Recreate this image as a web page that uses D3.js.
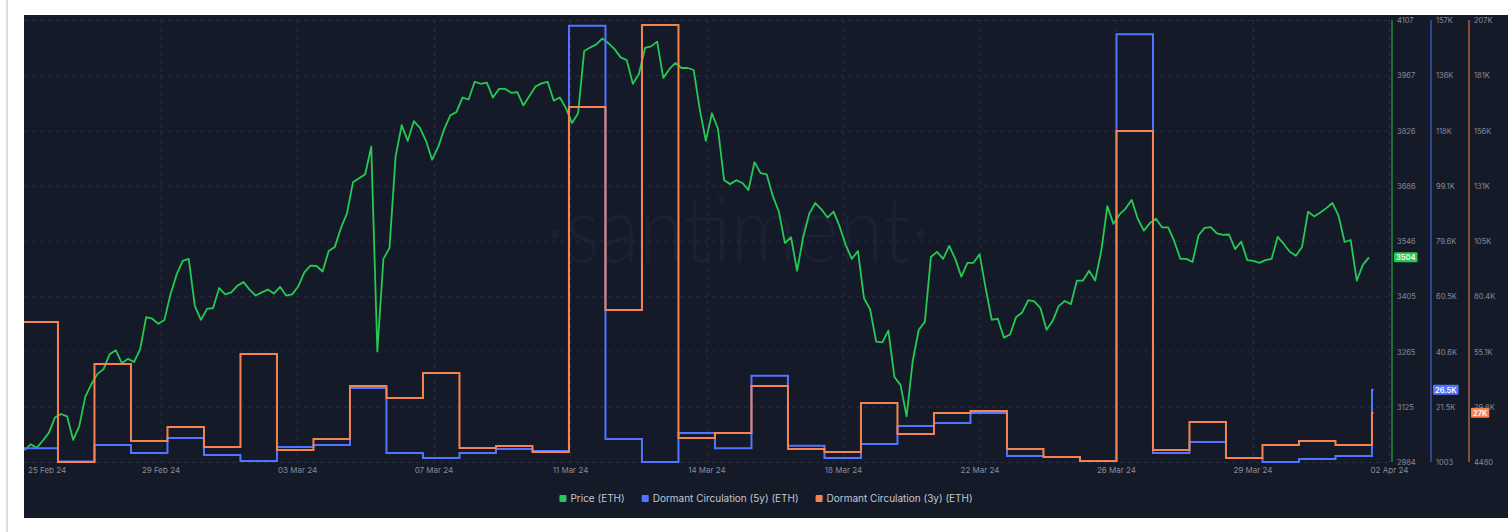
<html>
<head>
  <script src="https://d3js.org/d3.v7.min.js"></script>
  <style>
    body { margin: 0; padding: 0; background: #fff; font-family: "Inter", "Open Sans", sans-serif; }
    svg { display: block; }
  </style>
</head>
<body>
<div id="chart"></div>
<script>
// price, 4-hourly from 25 Feb 07:00 UTC
const priceStart = Date.UTC(2024, 1, 25, 7);
const priceStepHours = 4;
const priceValues = [
  3014, 3029, 3020, 3038, 3058, 3097, 3106, 3100, 3040, 3075,
  3150, 3182, 3208, 3220, 3258, 3268, 3235, 3246, 3238, 3270,
  3352, 3348, 3335, 3345, 3410, 3460, 3495, 3500, 3380, 3345,
  3373, 3375, 3426, 3410, 3415, 3432, 3441, 3422, 3407, 3415,
  3422, 3412, 3429, 3407, 3410, 3430, 3466, 3483, 3482, 3468,
  3520, 3530, 3578, 3615, 3695, 3705, 3715, 3785, 3265, 3500,
  3528, 3760, 3840, 3800, 3850, 3833, 3800, 3752, 3784, 3830,
  3865, 3873, 3910, 3905, 3950, 3945, 3948, 3910, 3932, 3932,
  3922, 3924, 3890, 3914, 3938, 3946, 3950, 3902, 3910, 3883,
  3845, 3870, 4028, 4037, 4045, 4060, 4048, 4033, 4012, 4005,
  3945, 3970, 4036, 4040, 4052, 3960, 3982, 3998, 3985, 3985,
  3980, 3880, 3800, 3870, 3830, 3700, 3690, 3700, 3693, 3675,
  3746, 3718, 3715, 3660, 3620, 3540, 3555, 3470, 3555, 3615,
  3642, 3626, 3605, 3620, 3582, 3535, 3500, 3520, 3400, 3372,
  3290, 3288, 3318, 3200, 3180, 3100, 3240, 3320, 3340, 3505,
  3518, 3500, 3533, 3500, 3455, 3490, 3490, 3512, 3425, 3345,
  3348, 3300, 3308, 3352, 3364, 3395, 3392, 3375, 3320, 3342,
  3380, 3393, 3385, 3445, 3445, 3470, 3445, 3520, 3634, 3589,
  3613, 3628, 3650, 3602, 3572, 3591, 3602, 3580, 3580, 3545,
  3500, 3500, 3492, 3560, 3579, 3581, 3565, 3561, 3562, 3525,
  3544, 3497, 3495, 3490, 3497, 3500, 3556, 3538, 3518, 3508,
  3530, 3620, 3608, 3618, 3629, 3642, 3610, 3543, 3548, 3445,
  3485, 3504
];

// dormant circulation, daily buckets starting 25 Feb 05:00 UTC
const dormantStart = Date.UTC(2024, 1, 25, 5);
const dormantEnd = new Date("2024-04-02T06:00Z");
const dormant5y = [
  5900, 1200, 7000, 4200, 9500, 3500, 1400, 6300, 7000, 27100,
  4200, 2400, 4200, 5600, 4900, 155000, 9100, 1003, 11200, 5900,
  31400, 6700, 2400, 7400, 13700, 14800, 18300, 3100, 2800, 1400,
  152000, 4200, 8100, 2400, 1003, 2100, 3100, 26500
];
const dormant3y = [
  68600, 4480, 49400, 14100, 20500, 11400, 54000, 10000, 15000, 39300,
  33800, 45300, 10900, 11800, 9100, 167100, 74100, 204700, 15500, 17800,
  39300, 10400, 9100, 31500, 17300, 26900, 27800, 10400, 6800, 4900,
  156100, 10000, 22800, 6300, 12300, 14100, 12300, 27000
];

// axes
const priceTicks = [2984, 3125, 3265, 3405, 3546, 3686, 3826, 3967, 4107];
const dormant5yTickLabels = ["1003", "21.5K", "40.6K", "60.5K", "79.6K", "99.1K", "118K", "136K", "157K"];
const dormant3yTickLabels = ["4480", "29.8K", "55.1K", "80.4K", "105K", "131K", "156K", "181K", "207K"];
const dateTicks = [
  "2024-02-29T00:45Z", "2024-03-03T18:30Z", "2024-03-07T12:15Z", "2024-03-11T06:00Z",
  "2024-03-14T23:45Z", "2024-03-18T17:30Z", "2024-03-22T11:15Z", "2024-03-26T05:00Z",
  "2024-03-29T22:45Z", "2024-04-02T16:30Z"
];

const W = 1508, H = 532;
const plotLeft = 24, plotRight = 1392, plotTop = 20, plotBottom = 462;
const bg = "#151a28";
const cPrice = "#26c953", c5y = "#5275ff", c3y = "#f5834f";

const svg = d3.select("#chart").append("svg").attr("width", W).attr("height", H);

svg.append("rect").attr("x", 6).attr("y", 0).attr("width", 2).attr("height", H).attr("fill", "#dedede");
svg.append("rect").attr("x", 24).attr("y", 15).attr("width", W - 24).attr("height", 503).attr("fill", bg);

const x = d3.scaleUtc()
  .domain([new Date("2024-02-25T06:40Z"), new Date("2024-04-02T18:10Z")])
  .range([plotLeft, plotRight]);
const yPrice = d3.scaleLinear().domain([priceTicks[0], priceTicks[priceTicks.length - 1]]).range([plotBottom, plotTop]);
const y5 = d3.scaleLinear().domain([1003, 157000]).range([plotBottom, plotTop]);
const y3 = d3.scaleLinear().domain([4480, 207000]).range([plotBottom, plotTop]);

// watermark
svg.append("text")
  .attr("x", 738).attr("y", 262)
  .attr("text-anchor", "middle")
  .attr("font-family", "Lato, sans-serif")
  .attr("font-weight", 300)
  .attr("font-size", 92)
  .attr("fill", "#1c2132")
  .attr("textLength", 385)
  .attr("lengthAdjust", "spacingAndGlyphs")
  .text("·santiment·");

// grid
const grid = svg.append("g").attr("stroke", "#272c3e").attr("stroke-dasharray", "4,4").attr("stroke-width", 1);
grid.selectAll("line.h").data(priceTicks).join("line")
  .attr("class", "h")
  .attr("x1", plotLeft).attr("x2", plotRight)
  .attr("y1", d => yPrice(d) + 0.5).attr("y2", d => yPrice(d) + 0.5);
grid.selectAll("line.v").data(dateTicks.map(d => new Date(d))).join("line")
  .attr("class", "v")
  .attr("x1", d => Math.round(x(d)) + 0.5).attr("x2", d => Math.round(x(d)) + 0.5)
  .attr("y1", plotTop).attr("y2", plotBottom);

// data
const priceData = priceValues.map((v, i) => ({ t: new Date(priceStart + i * priceStepHours * 3600e3), v }));
const toDays = arr => {
  const pts = arr.map((v, i) => ({ t: new Date(dormantStart + i * 86400e3), v }));
  pts.push({ t: dormantEnd, v: arr[arr.length - 1] });
  return pts;
};
const d5 = toDays(dormant5y);
const d3y = toDays(dormant3y);

svg.append("clipPath").attr("id", "plot")
  .append("rect").attr("x", plotLeft).attr("y", 0).attr("width", plotRight - plotLeft).attr("height", H);

const plot = svg.append("g").attr("clip-path", "url(#plot)");

plot.append("path").datum(priceData)
  .attr("fill", "none").attr("stroke", cPrice).attr("stroke-width", 1.8).attr("stroke-linejoin", "round")
  .attr("d", d3.line().x(d => x(d.t)).y(d => yPrice(d.v)));

plot.append("path").datum(d5)
  .attr("fill", "none").attr("stroke", c5y).attr("stroke-width", 2)
  .attr("d", d3.line().curve(d3.curveStepAfter).x(d => x(d.t)).y(d => y5(d.v)));

plot.append("path").datum(d3y)
  .attr("fill", "none").attr("stroke", c3y).attr("stroke-width", 2)
  .attr("d", d3.line().curve(d3.curveStepAfter).x(d => x(d.t)).y(d => y3(d.v)));

// x axis labels
const fmtDate = d3.utcFormat("%d %b %y");
const tickFill = "#858a9b";
svg.append("g").selectAll("text").data(dateTicks.map(d => new Date(d))).join("text")
  .attr("x", d => x(d)).attr("y", 473)
  .attr("text-anchor", "middle")
  .attr("font-size", 8).attr("fill", tickFill)
  .text(d => fmtDate(d));
svg.append("text")
  .attr("x", 28).attr("y", 473)
  .attr("font-size", 8).attr("fill", tickFill)
  .text(fmtDate(x.domain()[0]));

// right axes
const fmtK = v => v < 10000 ? String(Math.round(v)) : d3.format(".3~s")(v).replace("k", "K");
const axes = [
  { x: 1392, color: "#1f8a3e", scale: yPrice, labels: priceTicks.map(String), badge: cPrice, last: priceValues[priceValues.length - 1] },
  { x: 1431, color: "#3a55b5", scale: y5, labels: dormant5yTickLabels, badge: c5y, last: dormant5y[dormant5y.length - 1] },
  { x: 1469, color: "#b25d3d", scale: y3, labels: dormant3yTickLabels, badge: c3y, last: dormant3y[dormant3y.length - 1] }
];
axes.forEach(a => {
  svg.append("line")
    .attr("x1", a.x).attr("x2", a.x).attr("y1", plotTop).attr("y2", plotBottom)
    .attr("stroke", a.color).attr("stroke-width", 1.5);
  const [lo, hi] = a.scale.domain();
  const vals = d3.range(a.labels.length).map(i => lo + (hi - lo) * i / (a.labels.length - 1));
  svg.append("g").selectAll("text").data(vals).join("text")
    .attr("x", a.x + 5).attr("y", d => a.scale(d) + 3)
    .attr("font-size", 7.5).attr("fill", tickFill)
    .text((d, i) => a.labels[i]);
  const by = a.scale(a.last);
  const g = svg.append("g");
  const t = g.append("text")
    .attr("x", a.x + 4).attr("y", by + 2.8)
    .attr("font-size", 7.5).attr("font-weight", 600).attr("fill", "#fff")
    .text(fmtK(a.last));
  const w = t.node().getComputedTextLength();
  g.insert("rect", "text")
    .attr("x", a.x + 2).attr("y", by - 5).attr("width", w + 4).attr("height", 10)
    .attr("rx", 1).attr("fill", a.badge);
});

// legend
const legendItems = [
  { label: "Price (ETH)", color: cPrice },
  { label: "Dormant Circulation (5y) (ETH)", color: c5y },
  { label: "Dormant Circulation (3y) (ETH)", color: c3y }
];
const legend = svg.append("g");
let lx = 0;
legendItems.forEach(item => {
  const g = legend.append("g").attr("transform", `translate(${lx},0)`);
  g.append("rect").attr("x", 0).attr("y", -7).attr("width", 7).attr("height", 7).attr("rx", 1).attr("fill", item.color);
  const t = g.append("text").attr("x", 11).attr("y", 0)
    .attr("font-size", 10).attr("fill", "#c4c7d0").text(item.label);
  lx += 11 + t.node().getComputedTextLength() + 17;
});
legend.attr("transform", `translate(${766 - (lx - 17) / 2},502)`);
</script>
</body>
</html>
